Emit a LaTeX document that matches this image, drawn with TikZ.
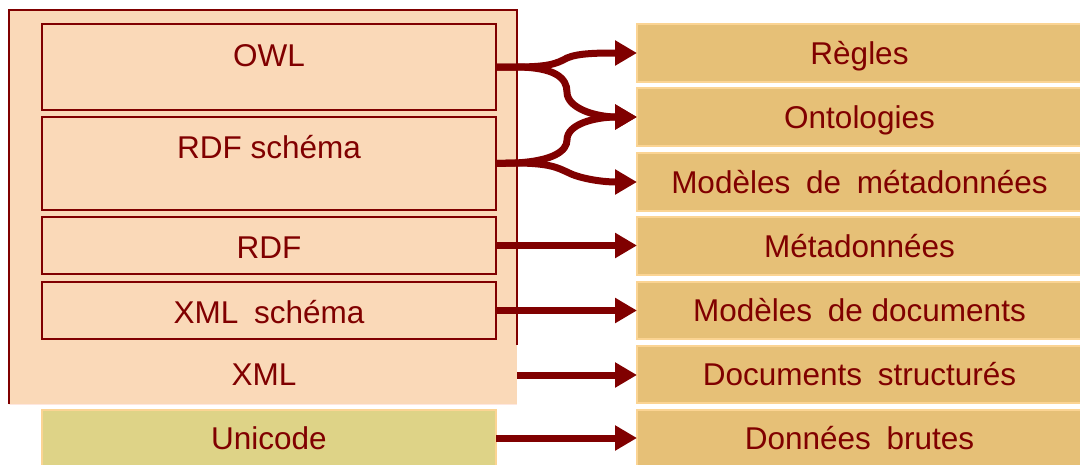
\documentclass[tikz,border=0pt]{standalone}
\usepackage{fontspec}
\setmainfont{Liberation Sans}
\usetikzlibrary{arrows.meta}
\definecolor{dred}{HTML}{800000}
\definecolor{peach}{HTML}{FAD9B8}
\definecolor{gold}{HTML}{E6C077}
\definecolor{goldedge}{HTML}{FBD493}
\definecolor{olive}{HTML}{DED387}
\newcommand{\wsp}{\hspace{0.5em}}
\begin{document}
\begin{tikzpicture}[x=1pt,y=-1pt,
  tfont/.style={text=dred,font=\fontsize{31.5}{36}\selectfont,text height=22.5pt,text depth=0pt},
  lbox/.style={draw=dred,line width=1.6pt,fill=peach,minimum width=454pt,inner sep=0pt,outer sep=0pt},
  rbox/.style={tfont,draw=goldedge,line width=1.5pt,fill=gold,minimum width=445pt,inner sep=0pt,outer sep=0pt},
  txt/.style={tfont,inner sep=0pt},
  arr/.style={draw=dred,line width=7pt,-{Triangle[length=22pt,width=24pt]}}]
\useasboundingbox (0,0) rectangle (1080,464);
% outer XML box
\fill[peach] (9,10) rectangle (517,404);
\draw[dred,line width=1.6pt] (9,404) -- (9,10) -- (517,10) -- (517,345);
\draw[peach!80!red!30,line width=1pt] (9,404) -- (517,404);
% left boxes
\node[lbox,minimum height=86pt] (owl) at (269,67) {};
\node[txt] (owlt) at (269,55) {OWL};
\node[lbox,minimum height=93pt] (rdfs) at (269,163.5) {};
\node[txt] (rdfst) at (269,147.5) {RDF schéma};
\node[lbox,minimum height=57pt] (rdf) at (269,245.5) {};
\node[txt] (rdft) at (269,247.5) {RDF};
\node[lbox,minimum height=57pt] (xmls) at (269,310.5) {};
\node[txt] (xmlst) at (269,312) {XML\wsp schéma};
\coordinate (xmle) at (517,375);
\node[txt] (xmlt) at (264,374.5) {XML};
\node[tfont,draw=goldedge,line width=1.2pt,fill=olive,minimum width=454pt,minimum height=56pt,inner sep=0pt,outer sep=0pt] (uni) at (269,438) {Unicode};
% right boxes
\node[rbox,minimum height=58pt] (regles) at (859.5,53) {Règles};
\node[rbox,minimum height=58pt] (onto) at (859.5,117) {Ontologies};
\node[rbox,minimum height=58pt] (mmeta) at (859.5,182) {Modèles\wsp de\wsp métadonnées};
\node[rbox,minimum height=58pt] (meta) at (859.5,246) {Métadonnées};
\node[rbox,minimum height=57pt] (mdoc) at (859.5,310.5) {Modèles\wsp de documents};
\node[rbox,minimum height=57pt] (dstr) at (859.5,374.5) {Documents\wsp structurés};
\node[rbox,minimum height=56pt] (brut) at (859.5,438) {Données\wsp brutes};
% curved arrows
\draw[arr] (owl.east) -- (515,67) .. controls (548,67) and (556,64) .. (567,58) .. controls (578,53) and (600,53) .. (regles.west);
\draw[arr] (owl.east) -- (515,67) .. controls (555,67) and (567,78) .. (567,92) .. controls (567,108) and (595,117) .. (onto.west);
\draw[arr] (rdfs.east) -- (515,163) .. controls (555,161) and (567,150) .. (567,140) .. controls (567,124) and (595,117) .. (onto.west);
\draw[arr] (rdfs.east) -- (515,163) .. controls (550,163) and (558,168) .. (567,172) .. controls (578,178) and (600,182) .. (mmeta.west);
% straight arrows
\draw[arr] (rdf.east) -- (meta.west |- rdf.east);
\draw[arr] (xmls.east) -- (mdoc.west |- xmls.east);
\draw[arr] (xmle) -- (dstr.west |- xmle);
\draw[arr] (uni.east) -- (brut.west |- uni.east);
\end{tikzpicture}
\end{document}
